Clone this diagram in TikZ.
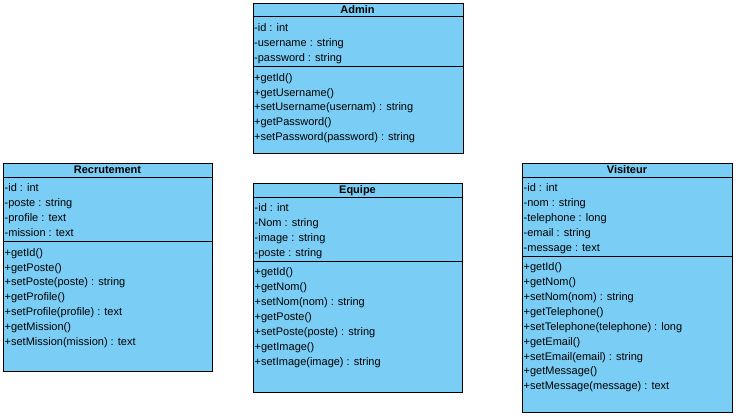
\documentclass[tikz,border=0pt]{standalone}
\usepackage{fontspec}
\setmainfont{Liberation Sans}
\definecolor{umlfill}{RGB}{122,206,245}
\begin{document}
\begin{tikzpicture}[x=1pt,y=-1pt,
  classbox/.style={draw=black, fill=umlfill, line width=0.9pt, inner sep=0pt, anchor=north west},
  sepline/.style={draw=black, line width=0.9pt},
  member/.style={anchor=mid west, inner sep=0pt, font=\fontsize{11}{13}\selectfont},
  ctitle/.style={anchor=mid, inner sep=0pt, font=\bfseries\fontsize{11}{13}\selectfont}]
\useasboundingbox (0,0) rectangle (736,416);

% Admin
\node[classbox, minimum width=210pt, minimum height=150pt] (admin) at (252.5,2.5) {};
\draw[sepline] ([yshift=-14pt]admin.north west) -- ([yshift=-14pt]admin.north east);
\draw[sepline] ([yshift=-64pt]admin.north west) -- ([yshift=-64pt]admin.north east);
\node[ctitle] (admin-t) at (357.5,10.5) {Admin};
\foreach \t [count=\i] in {-id : int, -username : string, -password : string}
  \node[member] (admin-a\i) at (254, 29+15*\i-15) {\t};
\foreach \t [count=\i] in {+getId(), +getUsername(), +setUsername(usernam) : string, +getPassword(), +setPassword(password) : string}
  \node[member] (admin-m\i) at (254, 78.5+14.9*\i-14.9) {\t};

% Recrutement
\node[classbox, minimum width=209pt, minimum height=208pt] (recru) at (3,163) {};
\draw[sepline] ([yshift=-14pt]recru.north west) -- ([yshift=-14pt]recru.north east);
\draw[sepline] ([yshift=-78pt]recru.north west) -- ([yshift=-78pt]recru.north east);
\node[ctitle] (recru-t) at (107.5,171) {Recrutement};
\foreach \t [count=\i] in {-id : int, -poste : string, -profile : text, -mission : text}
  \node[member] (recru-a\i) at (4.5, 189+14.9*\i-14.9) {\t};
\foreach \t [count=\i] in {+getId(), +getPoste(), +setPoste(poste) : string, +getProfile(), +setProfile(profile) : text, +getMission(), +setMission(mission) : text}
  \node[member] (recru-m\i) at (4.5, 253.5+14.9*\i-14.9) {\t};

% Equipe
\node[classbox, minimum width=209pt, minimum height=209pt] (equipe) at (253,183) {};
\draw[sepline] ([yshift=-14pt]equipe.north west) -- ([yshift=-14pt]equipe.north east);
\draw[sepline] ([yshift=-78pt]equipe.north west) -- ([yshift=-78pt]equipe.north east);
\node[ctitle] (equipe-t) at (357.5,191) {Equipe};
\foreach \t [count=\i] in {-id : int, -Nom : string, -image : string, -poste : string}
  \node[member] (equipe-a\i) at (254.5, 209+14.9*\i-14.9) {\t};
\foreach \t [count=\i] in {+getId(), +getNom(), +setNom(nom) : string, +getPoste(), +setPoste(poste) : string, +getImage(), +setImage(image) : string}
  \node[member] (equipe-m\i) at (254.5, 273+14.9*\i-14.9) {\t};

% Visiteur
\node[classbox, minimum width=210pt, minimum height=249pt] (visit) at (522,163) {};
\draw[sepline] ([yshift=-14pt]visit.north west) -- ([yshift=-14pt]visit.north east);
\draw[sepline] ([yshift=-93pt]visit.north west) -- ([yshift=-93pt]visit.north east);
\node[ctitle] (visit-t) at (627,171) {Visiteur};
\foreach \t [count=\i] in {-id : int, -nom : string, -telephone : long, -email : string, -message : text}
  \node[member] (visit-a\i) at (523.5, 189+14.9*\i-14.9) {\t};
\foreach \t [count=\i] in {+getId(), +getNom(), +setNom(nom) : string, +getTelephone(), +setTelephone(telephone) : long, +getEmail(), +setEmail(email) : string, +getMessage(), +setMessage(message) : text}
  \node[member] (visit-m\i) at (523.5, 268+14.9*\i-14.9) {\t};
\end{tikzpicture}
\end{document}
